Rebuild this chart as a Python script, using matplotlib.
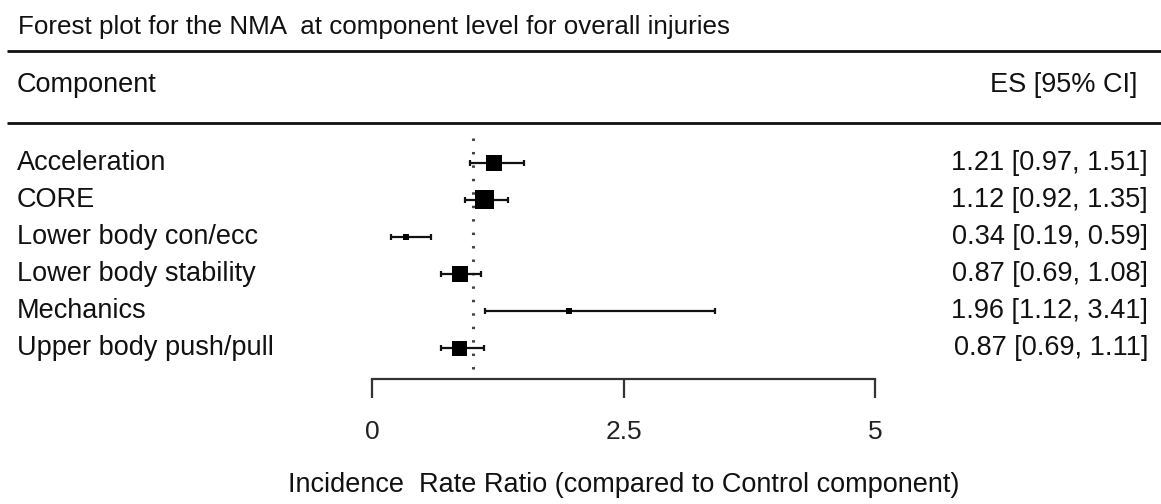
import matplotlib.pyplot as plt
import numpy as np

plt.rcParams['font.family'] = ['Liberation Sans', 'DejaVu Sans']

components = ['Acceleration', 'CORE', 'Lower body con/ecc', 'Lower body stability',
              'Mechanics', 'Upper body push/pull']
es = [1.21, 1.12, 0.34, 0.87, 1.96, 0.87]
lower = [0.97, 0.92, 0.19, 0.69, 1.12, 0.69]
upper = [1.51, 1.35, 0.59, 1.08, 3.41, 1.11]
xticks = [0, 2.5, 5]

# box size in pixels (weight of each estimate)
box_px = [16, 19, 6, 16, 6, 15]

W, H = 1161, 504
fig = plt.figure(figsize=(W / 100, H / 100), dpi=100)
ax = fig.add_axes([0, 0, 1, 1])

# pixel layout: x=0 at 372px, 100.6px per unit; rows start at 162.5px, 37.1px apart
x0, xs = 372, 100.6
y0, ys = 162.5, 37.1
ax.set_xlim(-x0 / xs, (W - x0) / xs)
ax.set_ylim((H - y0) / ys, -y0 / ys)

rows = np.arange(len(components))
lw = 1.6

ax.errorbar(es, rows, xerr=[np.subtract(es, lower), np.subtract(upper, es)],
            fmt='none', ecolor='#111111', elinewidth=lw, capsize=2.4, capthick=lw)
ax.scatter(es, rows, marker='s', s=(np.array(box_px) * 0.72) ** 2,
           color='black', zorder=3, linewidths=0)

# reference line at 1
axis_y = (379 - y0) / ys
ax.vlines(1, (138 - y0) / ys, axis_y, colors='#444444', linewidth=2.2,
          linestyles=(0, (0.8, 3.6)), zorder=1)

# x axis
for s in ['top', 'left', 'right']:
    ax.spines[s].set_visible(False)
ax.spines['bottom'].set_position(('data', axis_y))
ax.spines['bottom'].set_bounds(0, 5)
ax.spines['bottom'].set_linewidth(lw)
ax.spines['bottom'].set_color('#333333')
ax.set_xticks(xticks)
ax.set_xticklabels(['0', '2.5', '5'])
ax.tick_params(axis='x', direction='out', length=13.7, width=lw, color='#333333',
               pad=16, labelsize=19, labelcolor='#222222')
ax.set_yticks([])

fs = 19.5
ytr = ax.get_yaxis_transform()
for i, name in enumerate(components):
    ax.text(17 / W, i, name, transform=ytr, ha='left', va='center', fontsize=fs, color='#111111')
    ax.text(1148 / W, i, f'{es[i]:.2f} [{lower[i]:.2f}, {upper[i]:.2f}]', transform=ytr,
            ha='right', va='center', fontsize=fs, color='#111111')

ax.text(18 / W, 1 - 27 / H, 'Forest plot for the NMA  at component level for overall injuries',
        transform=ax.transAxes, ha='left', va='center', fontsize=18.7, color='#111111')
ax.text(17 / W, 1 - 85 / H, 'Component', transform=ax.transAxes, ha='left', va='center',
        fontsize=fs, color='#111111')
ax.text(1137 / W, 1 - 85 / H, 'ES [95% CI]', transform=ax.transAxes, ha='right', va='center',
        fontsize=fs, color='#111111')
ax.text((x0 + 2.5 * xs) / W, 1 - 485 / H,
        'Incidence  Rate Ratio (compared to Control component)',
        transform=ax.transAxes, ha='center', va='center', fontsize=fs, color='#111111')

# header rules
for ypx in [51, 123]:
    ax.plot([7 / W, 1], [1 - ypx / H, 1 - ypx / H], transform=ax.transAxes,
            color='#111111', linewidth=2.0, solid_capstyle='butt')

fig.savefig('out.png', dpi=100)
